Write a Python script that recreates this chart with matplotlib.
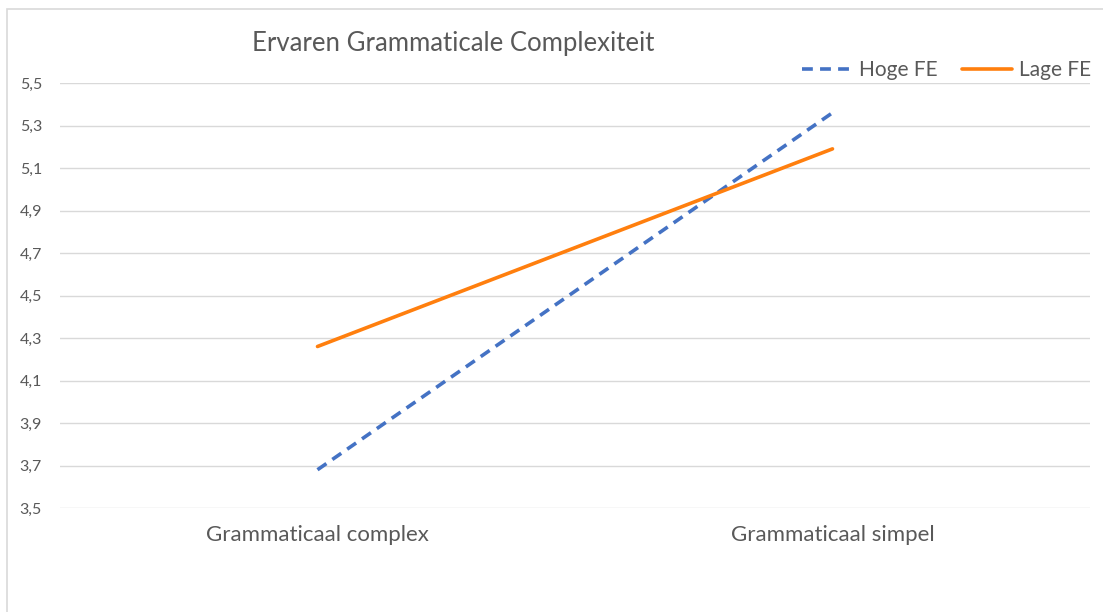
import matplotlib.pyplot as plt
from matplotlib.patches import Rectangle

categories = ["Grammaticaal complex", "Grammaticaal simpel"]
hoge_fe = [3.68, 5.36]
lage_fe = [4.26, 5.19]
yticks = [3.5, 3.7, 3.9, 4.1, 4.3, 4.5, 4.7, 4.9, 5.1, 5.3, 5.5]

plt.rcParams['font.family'] = ['Lato', 'DejaVu Sans']

fig = plt.figure(figsize=(11.03, 6.12), dpi=100)
ax = fig.add_axes([60 / 1103, 1 - 508 / 612, 1030 / 1103, 425 / 612])

x = list(range(len(categories)))
ax.plot(x, hoge_fe, color='#4472C4', lw=2.6, ls=(0, (3, 2)), label='Hoge FE')
ax.plot(x, lage_fe, color='#FF7F0E', lw=2.6, label='Lage FE', solid_capstyle='round')

ax.set_xlim(-0.5, 1.5)
ax.set_ylim(3.5, 5.5)
ax.set_yticks(yticks)
ax.set_yticklabels([f"{v:.1f}".replace('.', ',') for v in yticks], color='#595959', fontsize=11.5)
ax.set_xticks(x)
ax.set_xticklabels(categories, color='#595959', fontsize=16)
ax.tick_params(length=0)
ax.tick_params(axis='x', pad=12)
ax.tick_params(axis='y', pad=13)
ax.grid(axis='y', color='#D9D9D9', lw=1)
for s in ax.spines.values():
    s.set_visible(False)

fig.text(453 / 1103, 1 - 43 / 612, "Ervaren Grammaticale Complexiteit", ha='center', va='center',
         fontsize=18.5, color='#595959')

ax.legend(loc='center right', bbox_to_anchor=(1 + 9 / 1030, 1 + 13 / 425), ncol=2, frameon=False,
          fontsize=15, labelcolor='#595959', handlelength=2.4, handletextpad=0.3,
          columnspacing=1.2, borderaxespad=0)

fig.patches.append(Rectangle((7 / 1103, -0.1), 1.2, 1 - 9 / 612 + 0.1, transform=fig.transFigure,
                             fill=False, edgecolor='#D9D9D9', lw=1.2))

fig.savefig('out.png', dpi=100)
